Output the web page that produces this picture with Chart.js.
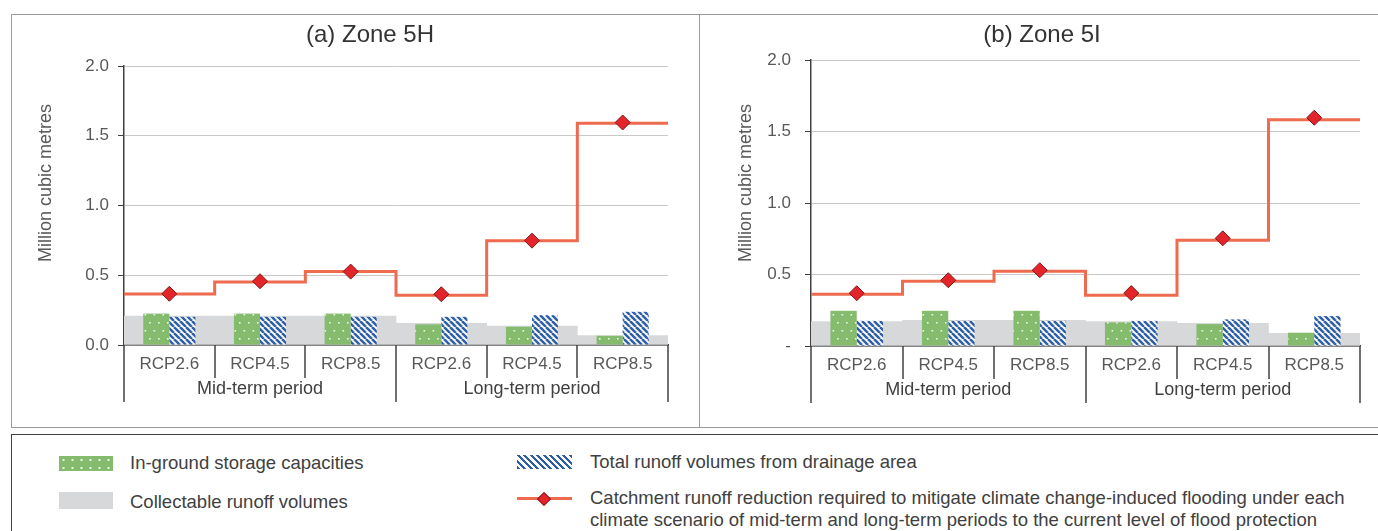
<!DOCTYPE html>
<html>
<head>
<meta charset="utf-8">
<script src="https://cdn.jsdelivr.net/npm/chart.js@4.4.0/dist/chart.umd.min.js"></script>
<style>
  body { margin: 0; width: 1378px; height: 531px; position: relative; overflow: hidden; background: #fff;
         font-family: "Liberation Sans", Arial, sans-serif; }
  .box { position: absolute; box-sizing: border-box; }
  canvas { position: absolute; }
  .title { position: absolute; width: 300px; text-align: center; font-size: 24px; line-height: 28px; color: #333; }
  .ytitle { position: absolute; width: 250px; height: 22px; line-height: 22px; text-align: center;
            font-size: 18px; color: #595959; transform: rotate(-90deg); }
  .lg { position: absolute; font-size: 18.5px; line-height: 22px; color: #404040; white-space: nowrap; }
  .sw { position: absolute; }
</style>
</head>
<body>
<div class="box" style="left:11px;top:14px;width:689px;height:414px;border:1px solid #9a9a9a;"></div>
<div class="box" style="left:699px;top:14px;width:720px;height:414px;border:1px solid #9a9a9a;"></div>
<div class="box" style="left:11px;top:434px;width:1420px;height:140px;border:1px solid #404040;"></div>

<canvas id="chart5H" width="686" height="411" style="left:12px;top:15px;width:686px;height:411px;"></canvas>
<canvas id="chart5I" width="678" height="411" style="left:700px;top:15px;width:678px;height:411px;"></canvas>

<div class="title" style="left:220px;top:20px;">(a) Zone 5H</div>
<div class="title" style="left:892px;top:20px;">(b) Zone 5I</div>
<div class="ytitle" style="left:-80px;top:172px;">Million cubic metres</div>
<div class="ytitle" style="left:620px;top:172px;">Million cubic metres</div>

<div class="sw" style="left:59px;top:456px;width:54px;height:15px;background-color:#84bb6c;
     background-image:radial-gradient(circle, rgba(255,255,255,0.9) 0.9px, transparent 1.3px);background-size:9px 8px;"></div>
<div class="lg" style="left:130px;top:452px;">In-ground storage capacities</div>
<div class="sw" style="left:59px;top:492px;width:54px;height:17px;background:#d7d8d9;"></div>
<div class="lg" style="left:130px;top:491px;">Collectable runoff volumes</div>
<div class="sw" style="left:517px;top:455px;width:55px;height:14px;
     background:repeating-linear-gradient(45deg, #2e5fa6 0 2.3px, #fff 2.3px 4.6px);"></div>
<div class="lg" style="left:590px;top:451px;">Total runoff volumes from drainage area</div>
<div class="sw" style="left:517px;top:497px;width:55px;height:3px;background:#ee6b4f;"></div>
<div class="sw" style="left:539px;top:494px;width:8px;height:8px;background:#e3242b;border:1px solid #8b1a1a;transform:rotate(45deg);"></div>
<div class="lg" style="left:590px;top:487px;">Catchment runoff reduction required to mitigate climate change-induced flooding under each<br>climate scenario of mid-term and long-term periods to the current level of flood protection</div>

<script>
const categories = ['RCP2.6', 'RCP4.5', 'RCP8.5', 'RCP2.6', 'RCP4.5', 'RCP8.5'];
const periods = ['Mid-term period', 'Long-term period'];
const yTicks5H = ['0.0', '0.5', '1.0', '1.5', '2.0'];
const yTicks5I = ['-', '0.5', '1.0', '1.5', '2.0'];

// Zone 5H
const storage5H = [0.225, 0.225, 0.225, 0.148, 0.131, 0.066];
const runoff5H = [0.202, 0.202, 0.202, 0.202, 0.214, 0.238];
const collect5H = [0.207, 0.207, 0.207, 0.155, 0.136, 0.067];
const reduction5H = [0.367, 0.457, 0.526, 0.364, 0.748, 1.595];
const step5H = [0.365, 0.452, 0.526, 0.357, 0.748, 1.59];

// Zone 5I
const storage5I = [0.246, 0.246, 0.246, 0.165, 0.153, 0.093];
const runoff5I = [0.176, 0.176, 0.176, 0.176, 0.186, 0.209];
const collect5I = [0.17, 0.18, 0.18, 0.17, 0.158, 0.088];
const reduction5I = [0.369, 0.46, 0.53, 0.37, 0.753, 1.596];
const step5I = [0.362, 0.453, 0.523, 0.355, 0.739, 1.582];

const FONT = '"Liberation Sans", Arial, sans-serif';

function dotPattern() {
    const c = document.createElement('canvas');
    c.width = 9; c.height = 16;
    const g = c.getContext('2d');
    g.fillStyle = '#84bb6c';
    g.fillRect(0, 0, 9, 16);
    g.fillStyle = 'rgba(255,255,255,0.85)';
    g.fillRect(2, 3, 1.6, 1.6);
    g.fillRect(6.5, 11, 1.6, 1.6);
    return g.createPattern(c, 'repeat');
}

function stripePattern() {
    const s = 6;
    const c = document.createElement('canvas');
    c.width = s; c.height = s;
    const g = c.getContext('2d');
    g.fillStyle = '#fff';
    g.fillRect(0, 0, s, s);
    g.strokeStyle = '#2e5fa6';
    g.lineWidth = 2.5;
    for (const k of [-1, 0, 1]) {
        g.beginPath();
        g.moveTo(k * s, 0);
        g.lineTo(k * s + s, s);
        g.stroke();
    }
    return g.createPattern(c, 'repeat');
}

// period labels and separators under the category axis
const groupAxis = {
    id: 'groupAxis',
    afterDraw(chart) {
        const xs = chart.scales.x;
        const ctx = chart.ctx;
        const y0 = chart.chartArea.bottom;
        const per = categories.length / periods.length;
        ctx.save();
        ctx.strokeStyle = '#404040';
        ctx.lineWidth = 1.5;
        for (let i = 0; i <= categories.length; i++) {
            const px = Math.round(xs.getPixelForValue(i - 0.5));
            const len = i % per === 0 ? 57 : 33;
            ctx.beginPath();
            ctx.moveTo(px, y0);
            ctx.lineTo(px, y0 + len);
            ctx.stroke();
        }
        ctx.fillStyle = '#404040';
        ctx.font = '18px ' + FONT;
        ctx.textAlign = 'center';
        ctx.textBaseline = 'middle';
        periods.forEach((p, k) => {
            ctx.fillText(p, xs.getPixelForValue(k * per + per / 2 - 0.5), y0 + 44);
        });
        ctx.restore();
    }
};

const pts = (arr) => arr.map((v, i) => ({x: i, y: v}));

function makeChart(id, d, box) {
    const ctx = document.getElementById(id).getContext('2d');
    const n = categories.length;
    // step line runs across each whole category slot
    const stepData = d.step.map((v, i) => ({x: i - 0.5, y: v})).concat([{x: n - 0.5, y: d.step[n - 1]}]);
    return new Chart(ctx, {
        type: 'bar',
        data: {
            datasets: [
                {
                    type: 'line', data: pts(d.reduction), order: 0, showLine: false,
                    pointStyle: 'rectRot', pointRadius: 7.5, pointBackgroundColor: '#e3242b',
                    pointBorderColor: '#7d1b17', pointBorderWidth: 1
                },
                {
                    type: 'line', data: stepData, order: 1, stepped: 'before',
                    borderColor: '#ee6b4f', borderWidth: 3, pointRadius: 0, fill: false
                },
                {
                    data: pts(d.storage), order: 2, backgroundColor: dotPattern(),
                    barPercentage: 1, categoryPercentage: 0.575
                },
                {
                    data: pts(d.runoff), order: 2, backgroundColor: stripePattern(),
                    barPercentage: 1, categoryPercentage: 0.575
                },
                {
                    data: pts(d.collect), order: 3, backgroundColor: '#d7d8d9',
                    grouped: false, barPercentage: 1, categoryPercentage: 1
                }
            ]
        },
        options: {
            responsive: false,
            animation: false,
            devicePixelRatio: 1,
            layout: {padding: {top: box.top, right: box.right, left: 0, bottom: 0}},
            plugins: {
                legend: {display: false},
                tooltip: {enabled: false},
                title: {display: false}
            },
            scales: {
                x: {
                    type: 'linear',
                    min: -0.5,
                    max: n - 0.5,
                    offset: false,
                    grid: {display: false, drawTicks: false},
                    border: {display: true, color: '#404040', width: 1.5},
                    afterBuildTicks: (s) => { s.ticks = categories.map((c, i) => ({value: i})); },
                    ticks: {
                        color: '#595959', font: {family: FONT, size: 17}, padding: 9,
                        maxRotation: 0, autoSkip: false,
                        callback: (v) => categories[v]
                    },
                    afterFit: (s) => { s.height = box.xh; }
                },
                y: {
                    min: 0,
                    max: 2,
                    ticks: {
                        stepSize: 0.5,
                        color: '#595959',
                        font: {family: FONT, size: 17},
                        padding: box.tickPad,
                        callback: (v, i) => d.yTicks[i]
                    },
                    grid: {color: '#c8c8c8', tickColor: '#404040', tickLength: 6, lineWidth: 1},
                    border: {color: '#404040', width: 1.5},
                    afterFit: (s) => { s.width = box.yw; }
                }
            }
        },
        plugins: [groupAxis]
    });
}

const chart5H = makeChart('chart5H', {
    storage: storage5H, runoff: runoff5H, collect: collect5H,
    reduction: reduction5H, step: step5H, yTicks: yTicks5H
}, {top: 51, right: 30, yw: 112, xh: 81, tickPad: 9});

const chart5I = makeChart('chart5I', {
    storage: storage5I, runoff: runoff5I, collect: collect5I,
    reduction: reduction5I, step: step5I, yTicks: yTicks5I
}, {top: 45, right: 18, yw: 111, xh: 80, tickPad: 14});
</script>
</body>
</html>
